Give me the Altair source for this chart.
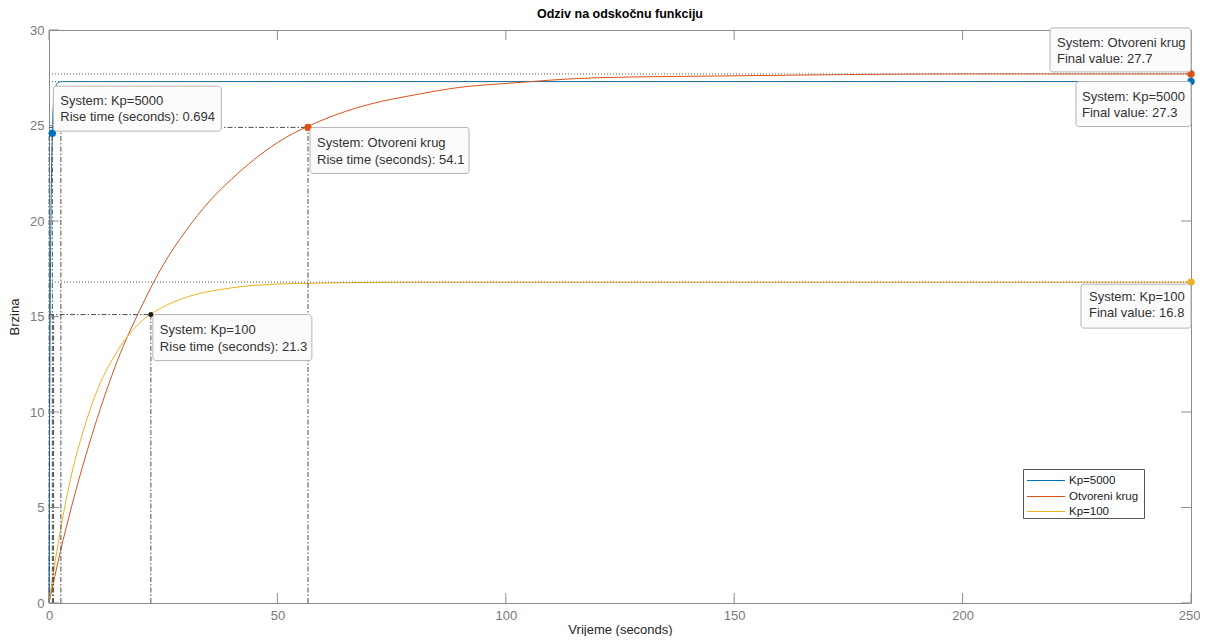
import altair as alt
import pandas as pd

# ---------------- data ----------------
series_names = ["Kp=5000", "Otvoreni krug", "Kp=100"]
series_colors = ["#0072BD", "#D95319", "#EDB120"]

t_kp5000 = [0, 0.05, 0.1, 0.2, 0.3, 0.4, 0.5, 0.75, 1.0, 1.5, 2, 3, 5, 250]
v_kp5000 = [0, 4.0, 7.4, 12.8, 16.7, 19.6, 21.7, 24.8, 26.2, 27.05, 27.25, 27.3, 27.3, 27.3]

t_open = [0, 2.5, 5, 10, 15, 20, 25, 30, 35, 40, 50, 60, 70, 80, 90, 100, 120, 150, 200, 250]
v_open = [0, 2.7, 5.1, 9.25, 12.7, 15.4, 17.7, 19.5, 21.0, 22.2, 24.1, 25.3, 26.1, 26.6, 27.0,
          27.2, 27.5, 27.6, 27.7, 27.7]

t_kp100 = [0, 1, 2.5, 5, 7.5, 10, 15, 20, 25, 30, 40, 50, 60, 80, 250]
v_kp100 = [0, 1.65, 3.8, 6.8, 9.0, 10.8, 13.2, 14.7, 15.5, 16.0, 16.5, 16.7, 16.75, 16.8, 16.8]

rise_t10 = [0.03, 2.6, 1.0]
rise_t90 = [0.73, 56.7, 22.3]
rise_level = [24.6, 24.9, 15.1]
final_values = [27.3, 27.7, 16.8]
final_time = 250
rise_time_labels = ["0.694", "54.1", "21.3"]
final_value_labels = ["27.3", "27.7", "16.8"]

x_ticks = [0, 50, 100, 150, 200, 250]
y_ticks = [0, 5, 10, 15, 20, 25, 30]

title_text = "Odziv na odskočnu funkciju"

# ---------------- layout / style ----------------
W, H = 1142, 573
FONT = "Liberation Sans"
TEXT_COLOR = "#333333"
RULE_COLOR = "#4d4d4d"
AXIS_COLOR = "#8c8c8c"

xs = alt.Scale(domain=[0, 250], nice=False, zero=False)
ys = alt.Scale(domain=[0, 30], nice=False, zero=False)
x_axis = alt.Axis(
    values=x_ticks, title="Vrijeme (seconds)", labelPadding=6, titlePadding=1, labelFlush=False,
    labelAlign={"condition": {"test": "datum.value >= 250", "value": "right"}, "value": "center"},
    labelOffset={"condition": {"test": "datum.value >= 250", "value": 9}, "value": 0},
)
y_axis = alt.Axis(values=y_ticks, title="Brzina", labelPadding=5, titlePadding=8, labelFlush=False)


def X(field):
    return alt.X(field, type="quantitative", scale=xs, axis=x_axis)


def Y(field):
    return alt.Y(field, type="quantitative", scale=ys, axis=y_axis)


layers = []

# response curves
rows = []
for name, ts, vs in zip(series_names, [t_kp5000, t_open, t_kp100], [v_kp5000, v_open, v_kp100]):
    for t, val in zip(ts, vs):
        rows.append({"series": name, "t": t, "v": val})
curves = pd.DataFrame(rows)

lines = alt.Chart(curves).mark_line(strokeWidth=1, interpolate="monotone").encode(
    x=X("t"),
    y=Y("v"),
    color=alt.Color("series:N", scale=alt.Scale(domain=series_names, range=series_colors), legend=None),
)
layers.append(lines)

# final-value dotted lines
for i in range(3):
    df = pd.DataFrame({"t": [0], "x1": [final_time], "v": [final_values[i]]})
    layers.append(alt.Chart(df).mark_rule(strokeDash=[1, 2], color="#666666", strokeWidth=1).encode(
        x=X("t"), x2="x1", y=Y("v")))

# rise-time dash-dot lines
for i in range(3):
    h = pd.DataFrame({"t": [0], "x1": [rise_t90[i]], "v": [rise_level[i]]})
    layers.append(alt.Chart(h).mark_rule(strokeDash=[5, 2, 1.5, 2], color=RULE_COLOR, strokeWidth=1).encode(
        x=X("t"), x2="x1", y=Y("v")))
    vdf = pd.DataFrame({"t": [rise_t10[i], rise_t90[i]], "v": [0, 0], "y1": [rise_level[i]] * 2})
    layers.append(alt.Chart(vdf).mark_rule(strokeDash=[5, 2, 1.5, 2], color=RULE_COLOR, strokeWidth=1).encode(
        x=X("t"), y=Y("v"), y2="y1"))

# markers
rise_marker_colors = ["#0072BD", "#D95319", "#1a1a1a"]
rise_marker_sizes = [55, 55, 25]
for i in range(3):
    df = pd.DataFrame({"t": [rise_t90[i]], "v": [rise_level[i]]})
    layers.append(alt.Chart(df).mark_circle(opacity=1, size=rise_marker_sizes[i], color=rise_marker_colors[i]).encode(
        x=X("t"), y=Y("v")))
    df2 = pd.DataFrame({"t": [final_time], "v": [final_values[i]]})
    layers.append(alt.Chart(df2).mark_circle(opacity=1, size=55, color=series_colors[i]).encode(
        x=X("t"), y=Y("v")))

# inward ticks
xt = pd.DataFrame({"t": x_ticks})
yt = pd.DataFrame({"v": y_ticks})
layers.append(alt.Chart(xt).mark_rule(color=AXIS_COLOR).encode(x=X("t"), y=alt.value(H), y2=alt.value(H - 10)))
layers.append(alt.Chart(xt).mark_rule(color=AXIS_COLOR).encode(x=X("t"), y=alt.value(0), y2=alt.value(10)))
layers.append(alt.Chart(yt).mark_rule(color=AXIS_COLOR).encode(y=Y("v"), x=alt.value(0), x2=alt.value(10)))
layers.append(alt.Chart(yt).mark_rule(color=AXIS_COLOR).encode(y=Y("v"), x=alt.value(W), x2=alt.value(W - 10)))

# data tips: (anchor, line1, line2, box offsets x1,x2,y1,y2, text dx, dy1, dy2)
tips = [
    ((rise_t90[0], rise_level[0]), "System: " + series_names[0], "Rise time (seconds): " + rise_time_labels[0],
     (1, 169, -47, -2), 8, -32, -16),
    ((rise_t90[1], rise_level[1]), "System: " + series_names[1], "Rise time (seconds): " + rise_time_labels[1],
     (2, 161, 0, 46), 9, 16, 33),
    ((rise_t90[2], rise_level[2]), "System: " + series_names[2], "Rise time (seconds): " + rise_time_labels[2],
     (2, 161, 0, 46), 9, 15.5, 32),
    ((final_time, final_values[1]), "System: " + series_names[1], "Final value: " + final_value_labels[1],
     (-141, 0, -46, -2), -134, -30.5, -15),
    ((final_time, final_values[0]), "System: " + series_names[0], "Final value: " + final_value_labels[0],
     (-115, 0, 0, 45), -109, 15.5, 31),
    ((final_time, final_values[2]), "System: " + series_names[2], "Final value: " + final_value_labels[2],
     (-110, 0, 2, 46), -102, 14.5, 31),
]
for (ax, ay), l1, l2, (bx1, bx2, by1, by2), tdx, dy1, dy2 in tips:
    df = pd.DataFrame({"t": [ax], "v": [ay], "l1": [l1], "l2": [l2]})
    base = alt.Chart(df)
    layers.append(base.mark_rect(xOffset=bx1, x2Offset=bx2, yOffset=by1, y2Offset=by2, cornerRadius=3,
                                 fill="#fbfbfb", stroke="#b4b4b4", strokeWidth=1).encode(
        x=X("t"), x2="t", y=Y("v"), y2="v"))
    layers.append(base.mark_text(align="left", baseline="middle", dx=tdx, dy=dy1, font=FONT, fontSize=13,
                                 color=TEXT_COLOR).encode(x=X("t"), y=Y("v"), text="l1:N"))
    layers.append(base.mark_text(align="left", baseline="middle", dx=tdx, dy=dy2, font=FONT, fontSize=13,
                                 color=TEXT_COLOR).encode(x=X("t"), y=Y("v"), text="l2:N"))

# legend
LX0, LX1, LY0, LY1 = 974.5, 1095.5, 439.5, 488.5
one = pd.DataFrame({"k": [0]})
layers.append(alt.Chart(one).mark_rect(fill="white", stroke="#555555", strokeWidth=1).encode(
    x=alt.value(LX0), x2=alt.value(LX1), y=alt.value(LY0), y2=alt.value(LY1)))
legend_rows = [450.5, 466.5, 481.5]
for i, name in enumerate(series_names):
    ly = legend_rows[i]
    ldf = pd.DataFrame({"name": [name]})
    layers.append(alt.Chart(ldf).mark_rule(color=series_colors[i], strokeWidth=1).encode(
        x=alt.value(978), x2=alt.value(1016), y=alt.value(ly)))
    layers.append(alt.Chart(ldf).mark_text(align="left", baseline="middle", font=FONT, fontSize=11.5,
                                           color="#1a1a1a").encode(
        x=alt.value(1020), y=alt.value(ly), text="name:N"))

# chart title as a text mark above the plot area
tdf = pd.DataFrame({"title": [title_text]})
layers.append(alt.Chart(tdf).mark_text(align="center", baseline="alphabetic", font=FONT, fontSize=12.5,
                                       fontWeight="bold", color="#000000").encode(
    x=alt.value(W / 2), y=alt.value(-12), text="title:N"))

chart = alt.layer(*layers).properties(
    width=W, height=H,
    autosize=alt.AutoSizeParams(type="none"),
    padding={"left": 41, "top": 22, "right": 9, "bottom": 33},
    background="white",
).configure_view(stroke=AXIS_COLOR, strokeWidth=1).configure_axis(
    domain=False, ticks=False, grid=False,
    labelFont=FONT, labelFontSize=13, labelColor="#7a7a7a",
    titleFont=FONT, titleFontSize=13, titleColor="#262626", titleFontWeight="normal",
)

chart.save("out.html", embed_options={"renderer": "svg", "actions": False})
